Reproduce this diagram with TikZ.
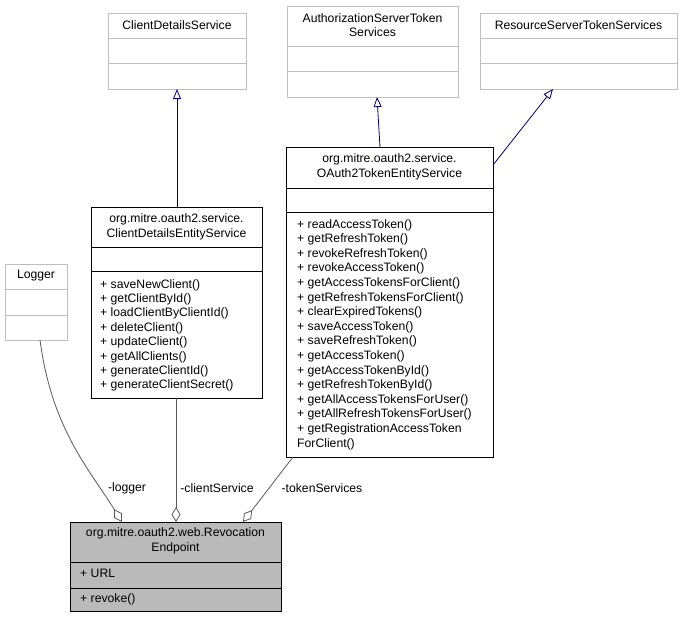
\documentclass[tikz,border=0pt]{standalone}
\usepackage{fontspec}
\setmainfont{Liberation Sans}
\usetikzlibrary{arrows.meta}
\begin{document}
\begin{tikzpicture}[x=1pt,y=-1pt,
  box/.style={draw=#1,anchor=north west,inner sep=0pt,line width=0.9pt},
  txt/.style={anchor=west,inner sep=0pt,font=\fontsize{12.2}{14.4}\selectfont,text=#1},
  ctxt/.style={anchor=center,inner sep=0pt,font=\fontsize{12.2}{14.4}\selectfont,text=#1,align=center},
  inh/.style={draw=blue!40!black,line width=0.8pt,-{Triangle[open,length=10pt,width=8pt,fill=white]}},
  comp/.style={draw=black!65,line width=0.8pt,-{Diamond[open,length=15pt,width=9pt,fill=white]}},
  lab/.style={font=\fontsize{12.2}{14.4}\selectfont,inner sep=1pt}]
\useasboundingbox (0,0) rectangle (683,619);
\fill[white] (0,0) rectangle (683,619);
% interface boxes
\node[box=black!25,minimum width=138pt,minimum height=76pt] (cds) at (108,13) {};
\draw[black!25,line width=0.9pt] (108,38)--(246,38) (108,63)--(246,63);
\node[ctxt=black] at (177,25) {ClientDetailsService};
\node[box=black!25,minimum width=171pt,minimum height=91pt] (ast) at (287,6) {};
\draw[black!25,line width=0.9pt] (287,46)--(458,46) (287,71)--(458,71);
\node[ctxt=black] at (372.5,25) {AuthorizationServerToken\\Services};
\node[box=black!25,minimum width=197pt,minimum height=76pt] (rst) at (480,13) {};
\draw[black!25,line width=0.9pt] (480,38)--(677,38) (480,63)--(677,63);
\node[ctxt=black] at (578.5,25) {ResourceServerTokenServices};
\node[box=black!25,minimum width=62pt,minimum height=76pt] (log) at (5,264) {};
\draw[black!25,line width=0.9pt] (5,289)--(67,289) (5,315)--(67,315);
\node[ctxt=black] at (36,276) {Logger};
% OAuth2TokenEntityService
\node[box=black,minimum width=207pt,minimum height=310pt] (ote) at (286,147) {};
\draw[line width=0.9pt] (286,188)--(493,188) (286,212)--(493,212);
\node[ctxt=black] at (389.5,167) {org.mitre.oauth2.service.\\OAuth2TokenEntityService};
\foreach \t [count=\i from 0] in {readAccessToken(),getRefreshToken(),revokeRefreshToken(),revokeAccessToken(),getAccessTokensForClient(),getRefreshTokensForClient(),clearExpiredTokens(),saveAccessToken(),saveRefreshToken(),getAccessToken(),getAccessTokenById(),getRefreshTokenById(),getAllAccessTokensForUser(),getAllRefreshTokensForUser(),getRegistrationAccessToken}
  \node[txt=black] at (297,225+14.6*\i) {+ \t};
\node[txt=black] at (297,444) {ForClient()};
% ClientDetailsEntityService
\node[box=black,minimum width=171pt,minimum height=191pt] (cdes) at (91,207) {};
\draw[line width=0.9pt] (91,247)--(262,247) (91,271)--(262,271);
\node[ctxt=black] at (176.5,227) {org.mitre.oauth2.service.\\ClientDetailsEntityService};
\foreach \t [count=\i from 0] in {saveNewClient(),getClientById(),loadClientByClientId(),deleteClient(),updateClient(),getAllClients(),generateClientId(),generateClientSecret()}
  \node[txt=black] at (100,285+14.4*\i) {+ \t};
% RevocationEndpoint
\node[box=black,fill=black!27,minimum width=211pt,minimum height=89pt] (re) at (70,522) {};
\draw[line width=0.9pt] (70,562)--(281,562) (70,588)--(281,588);
\node[ctxt=black] at (175.5,541) {org.mitre.oauth2.web.Revocation\\Endpoint};
\node[txt=black] at (80,573) {+ URL};
\node[txt=black] at (80,599) {+ revoke()};
% inheritance
\draw[inh] (177,207) -- (177,89);
\draw[inh] (380,147) -- (377,97);
\draw[inh] (493,165) -- (553,89);
% composition
\draw[comp] (40,340) .. controls (52,430) and (90,470) .. (122,522);
\draw[comp] (176,398) -- (176,522);
\draw[comp] (293,457) -- (243,522);
\node[lab] at (127,488) {-logger};
\node[lab] at (217,488) {-clientService};
\node[lab] at (322,488) {-tokenServices};
\end{tikzpicture}
\end{document}
